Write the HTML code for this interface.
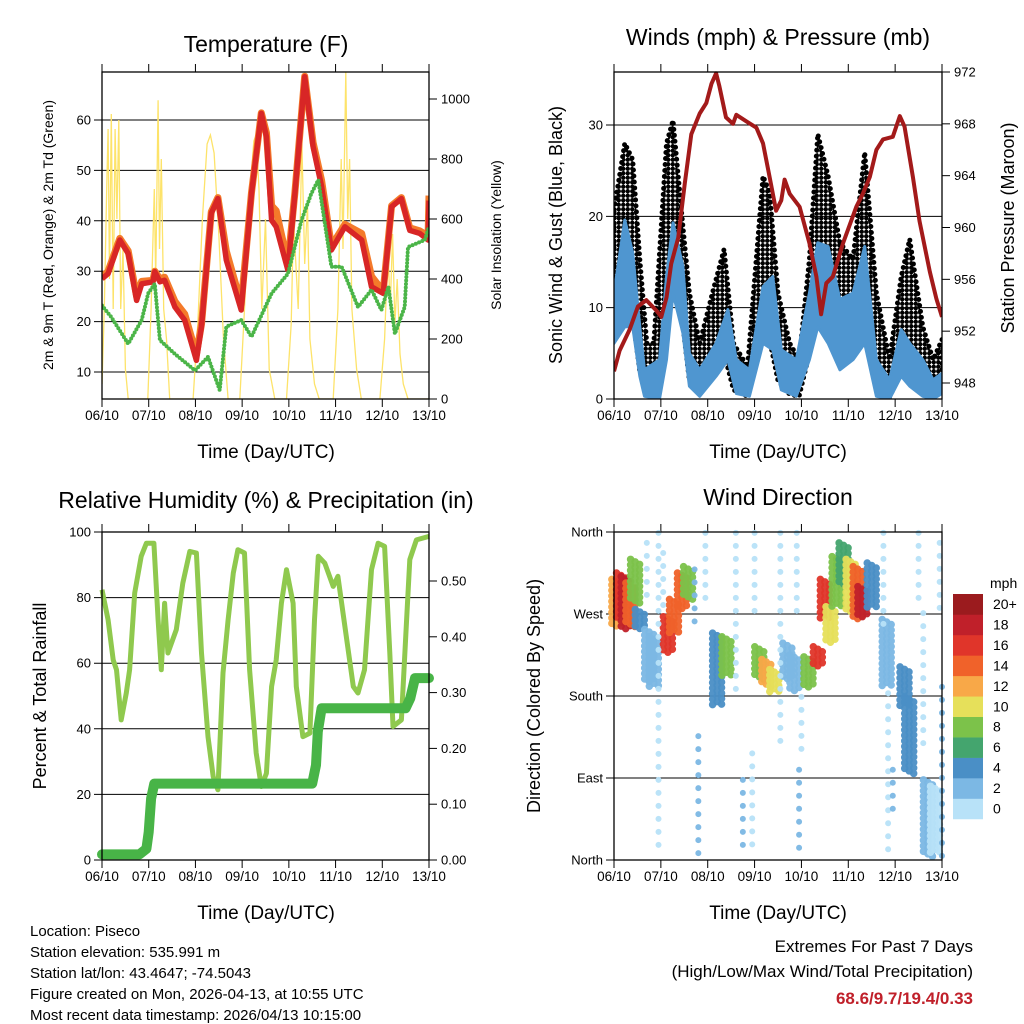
<!DOCTYPE html>
<html><head><meta charset="utf-8"><title>Station Meteogram</title>
<style>
body{margin:0;background:#fff;width:1024px;height:1024px;overflow:hidden}
svg{display:block;font-family:"Liberation Sans",sans-serif}
</style></head>
<body>
<svg id="root" width="1024" height="1024" viewBox="0 0 1024 1024">
<defs>
<pattern id="gustdots" width="4.5" height="4.5" patternUnits="userSpaceOnUse"><circle cx="2.25" cy="2.25" r="2.2" fill="#000"/></pattern>
</defs>
<g id="p1"></g>
<g id="p2"></g>
<g id="p3"></g>
<g id="p4"></g>

<text x="266" y="52" font-size="23" text-anchor="middle">Temperature (F)</text>
<text x="778" y="45" font-size="23" text-anchor="middle">Winds (mph) &amp; Pressure (mb)</text>
<text x="266" y="508" font-size="23" text-anchor="middle">Relative Humidity (%) &amp; Precipitation (in)</text>
<text x="778" y="505" font-size="23" text-anchor="middle">Wind Direction</text>

<text x="266" y="458" font-size="19" text-anchor="middle">Time (Day/UTC)</text>
<text x="778" y="458" font-size="19" text-anchor="middle">Time (Day/UTC)</text>
<text x="266" y="919" font-size="19" text-anchor="middle">Time (Day/UTC)</text>
<text x="778" y="919" font-size="19" text-anchor="middle">Time (Day/UTC)</text>

<text transform="translate(53,235) rotate(-90)" font-size="14" text-anchor="middle">2m &amp; 9m T (Red, Orange) &amp; 2m Td (Green)</text>
<text transform="translate(501,235) rotate(-90)" font-size="14" text-anchor="middle">Solar Insolation (Yellow)</text>
<text transform="translate(562,235) rotate(-90)" font-size="18" text-anchor="middle">Sonic Wind &amp; Gust (Blue, Black)</text>
<text transform="translate(1014,228) rotate(-90)" font-size="18" text-anchor="middle">Station Pressure (Maroon)</text>
<text transform="translate(46,696) rotate(-90)" font-size="18" text-anchor="middle">Percent &amp; Total Rainfall</text>
<text transform="translate(540,696) rotate(-90)" font-size="18" text-anchor="middle">Direction (Colored By Speed)</text>

<g font-size="15">
<text x="30" y="936">Location: Piseco</text>
<text x="30" y="957">Station elevation: 535.991 m</text>
<text x="30" y="978">Station lat/lon: 43.4647; -74.5043</text>
<text x="30" y="999">Figure created on Mon, 2026-04-13, at 10:55 UTC</text>
<text x="30" y="1020">Most recent data timestamp: 2026/04/13 10:15:00</text>
</g>
<text x="973" y="952" font-size="17" text-anchor="end">Extremes For Past 7 Days</text>
<text x="973" y="977" font-size="17" text-anchor="end">(High/Low/Max Wind/Total Precipitation)</text>
<text x="973" y="1004" font-size="17" font-weight="bold" fill="#c0202a" text-anchor="end">68.6/9.7/19.4/0.33</text>
<g id="legend"></g>
</svg>
<script>
// ---------- data ----------
const dayLabels = ["06/10","07/10","08/10","09/10","10/10","11/10","12/10","13/10"];
const tempTimes = [0,0.13,0.38,0.56,0.74,0.85,1.09,1.13,1.24,1.34,1.56,1.77,2.02,2.13,2.34,2.48,2.66,2.98,3.2,3.41,3.52,3.63,3.73,3.98,4.13,4.34,4.52,4.7,4.91,5.2,5.56,5.77,6.02,6.2,6.41,6.59,6.8,6.98,7.0];
const temp2m = [28.5,29.5,36.2,33.5,24.2,27.5,27.9,29.9,27.9,28.2,22.9,20.3,12.3,19,41.5,44.4,32.2,22.3,45.4,61.3,56.7,40.1,38.8,30.2,45.4,68.6,54.7,46.8,34.2,38.8,36.2,26.9,25.6,42.8,44.4,38.1,37.5,36.2,44];
const temp9m = [28.8,30,36.5,34,25,28,28.2,30,28.5,28.8,24,21.5,13.5,19.5,41.8,44.6,34,23.5,45.6,61.4,57.5,43,42,31.5,45.6,68.7,55.5,48,35,39.3,37.5,29,26,43,44.6,38.6,38,37,45];
const tdTimes = [0,0.2,0.56,0.85,0.99,1.13,1.24,1.56,1.99,2.27,2.52,2.66,2.98,3.2,3.63,3.98,4.27,4.48,4.63,4.91,5.13,5.48,5.77,5.98,6.13,6.27,6.48,6.55,6.91,7];
const tdVals = [23.2,20.9,15.6,20.3,25.6,27.5,16.3,13.6,10.3,13,6.4,19,20.3,17,25.6,29.5,40.1,45.4,48.1,30.9,30.9,22.9,26.3,22.3,26.9,17.6,22.9,34.8,36.2,38.8];
const solarTimes = [0,0.05,0.1,0.13,0.16,0.2,0.24,0.28,0.32,0.36,0.4,0.45,0.5,0.56,0.98,1.05,1.12,1.15,1.2,1.23,1.27,1.32,1.38,1.45,1.95,2.05,2.15,2.25,2.32,2.4,2.5,2.6,2.7,2.95,3.05,3.15,3.25,3.3,3.36,3.42,3.5,3.58,3.7,3.95,4.05,4.1,4.2,4.28,4.34,4.4,4.45,4.55,4.65,4.95,5.05,5.12,5.16,5.22,5.26,5.3,5.35,5.45,5.55,5.95,6.05,6.12,6.17,6.22,6.27,6.32,6.38,6.45,6.55,7];
const solarVals = [50,300,700,900,400,950,300,900,600,930,300,500,100,0,0,300,700,400,996,500,800,300,200,0,0,250,600,850,880,820,550,200,0,0,300,650,860,880,700,300,600,100,0,0,250,600,300,850,450,650,200,50,0,0,300,800,500,1090,600,800,300,100,0,0,200,500,300,550,250,400,150,50,0,0];
const presTimes = [0,0.12,0.33,0.51,0.69,0.9,1.01,1.12,1.22,1.37,1.51,1.65,1.83,1.97,2.08,2.18,2.25,2.39,2.54,2.61,2.82,3.04,3.18,3.32,3.46,3.57,3.64,3.75,3.96,4.17,4.32,4.42,4.53,4.67,4.89,5.17,5.31,5.46,5.6,5.74,5.95,6.1,6.2,6.38,6.52,6.74,6.88,7];
const presVals = [948.9,950.5,952.1,953.9,954.4,953.6,953.1,954.6,957.2,959.2,963.4,967.2,968.8,969.6,971.1,971.9,970.9,968.5,968,968.7,968.2,967.7,966.5,963.9,961.3,962.1,963.7,962.6,961.6,958.8,956.2,953.3,955.7,956.2,958.8,961.6,962.6,963.9,966,966.8,967,968.6,967.8,963.9,960.5,956.6,954.5,953.1];
const windTimes = [0,0.23,0.4,0.55,0.65,0.97,1.12,1.26,1.47,1.61,1.83,2.18,2.43,2.61,2.89,3.18,3.39,3.57,3.89,4.17,4.35,4.57,4.82,5.1,5.35,5.6,5.88,6.13,6.31,6.59,6.81,7];
const windHigh = [11.6,19.6,16,7.9,3.2,4.3,13.4,19.3,14.5,5,3.2,6.1,9.8,4.3,3.2,12.3,13.4,5.4,4.3,11.6,17.1,16.7,10.9,11.6,16.7,4.3,2.1,7.6,6.1,4.3,2.1,2.8];
const windLow = [6.1,7.9,7.9,2.5,0.3,0,4.3,11.6,7.2,1.4,0.3,2.5,4.3,0.6,0.3,6.1,5.4,1,0.3,4.3,7.9,6.1,3.2,4.3,6.1,0.3,0,2.5,1.4,0.3,0,0.6];
const gustTimes = [0,0.23,0.4,0.55,0.7,0.85,1.12,1.26,1.47,1.61,1.83,2.1,2.35,2.55,2.85,3.18,3.32,3.5,3.75,3.95,4.17,4.35,4.57,4.82,5.1,5.35,5.6,5.88,6.13,6.31,6.59,6.81,7];
const gustHigh = [20.7,28,26.2,15.3,6.1,6.1,28,30.5,18.9,11.6,6.1,11.6,16.4,6.1,3.5,24.4,22.6,11.6,6.1,4.3,15.3,29,24.4,17.1,15.3,27,11.6,4.3,13.4,17.5,7.9,4.3,6.5];
const gustLow = [8.7,13.4,9,3,0.6,0.5,7,12,8,2,0.5,2.5,5,1,0.3,7,6.5,2,0.5,0.3,5,9,7,4,5,7,1,0.2,3,2,0.5,0.2,1];
const rhTimes = [0,0.13,0.24,0.31,0.41,0.52,0.59,0.7,0.84,0.95,1.11,1.2,1.27,1.34,1.41,1.59,1.73,1.88,2.02,2.13,2.27,2.38,2.48,2.59,2.7,2.81,2.91,3.05,3.16,3.3,3.41,3.52,3.63,3.73,3.84,3.95,4.09,4.16,4.3,4.45,4.55,4.63,4.77,4.95,5.05,5.2,5.38,5.48,5.62,5.77,5.91,6.05,6.16,6.23,6.41,6.52,6.59,6.73,6.98,7];
const rhVals = [82.4,73.2,61,58,42.7,50.9,58,81.4,92.6,96.6,96.6,73.2,58,78.3,63.1,70.2,84.4,94.1,93.6,63.1,37.6,25.4,21.4,57,73.2,87.5,94.6,93.6,58,32.6,22.4,26.4,52.9,61,78.3,88.5,78.3,52.9,37.6,38.7,73.2,92.6,90.5,83.4,86.5,71.2,52.9,50.9,58,88.5,96.6,95.6,63.1,40.7,42.7,73.2,91.6,97.6,98.6,98.7];
const precipTimes = [0,0.8,0.95,1.0,1.05,1.12,4.5,4.58,4.62,4.7,6.5,6.6,6.7,7];
const precipVals = [0.01,0.01,0.02,0.05,0.11,0.137,0.137,0.17,0.23,0.272,0.272,0.29,0.326,0.326];
const dirTimes = [0.05,0.15,0.25,0.35,0.45,0.55,0.75,0.85,1.15,1.28,1.45,1.58,1.72,2.2,2.4,3.1,3.25,3.42,3.7,3.85,4.15,4.35,4.5,4.62,4.75,4.9,5.05,5.2,5.3,5.5,5.82,6.2,6.3,6.7,6.85,0.7,0.95,1.05,1.8,1.95,2.6,2.75,2.95,3.0,3.55,3.9,3.95,4.0,5.75,5.85,5.95,6.5,6.6,6.95,7.0];
const dirHigh = [308,315,311,304,330,275,253,245,267,286,315,322,319,249,245,234,220,209,238,225,223,234,308,278,333,348,330,322,300,326,264,212,179,88,81,348,359,337,136,359,359,88,117,359,359,359,99,179,359,183,99,359,271,348,190];
const dirLow = [256,264,253,256,282,253,194,190,227,249,275,286,253,168,201,198,190,183,198,185,190,212,264,238,278,300,271,264,267,275,190,168,95,4,7,282,7,275,4,282,179,4,4,264,117,264,4,117,256,4,44,282,117,264,4];
const dirSpeed = [12,16,18,14,8,4,2,2,16,14,14,8,2,4,8,8,12,10,2,2,8,16,16,10,8,6,10,14,18,4,2,4,4,2,0,0,0,0,2,0,0,2,0,0,0,0,2,0,0,0,2,0,0,0,2];
const dirSparse = [0,0,0,0,0,0,0,0,0,0,0,0,1,0,0,0,0,0,0,0,0,0,0,0,0,0,0,0,0,0,0,0,0,0,0,1,1,1,1,1,1,1,1,1,1,1,1,1,1,1,1,1,1,1,1];
const speedLabels = ["0","2","4","6","8","10","12","14","16","18","20+"];
const speedColors = ["#b8e2f8","#7cb8e4","#4a8fc6","#44a56e","#7cc24a","#e6e05a","#f8a848","#f0622a","#e0352a","#c0202a","#9b1b1e"];
const temp1Ticks = [10,20,30,40,50,60];
const solarTicks = [0,200,400,600,800,1000];
const windTicks = [0,10,20,30];
const presTicks = [948,952,956,960,964,968,972];
const rhTicks = [0,20,40,60,80,100];
const rainTicks = [0,0.1,0.2,0.3,0.4,0.5];
const dirTicks = [0,90,180,270,360];
const dirNames = ["North","East","South","West","North"];

// ---------- helpers ----------
const NS = "http://www.w3.org/2000/svg";
function mk(parent, tag, attrs) {
  const e = document.createElementNS(NS, tag);
  for (const k in attrs) e.setAttribute(k, attrs[k]);
  parent.appendChild(e);
  return e;
}
function linScale(d0, d1, r0, r1) { return v => r0 + (v - d0) * (r1 - r0) / (d1 - d0); }
function pathFrom(ts, vs, xs, ys) { return ts.map((t, i) => (i ? "L" : "M") + xs(t).toFixed(1) + "," + ys(vs[i]).toFixed(1)).join(""); }

function frame(g, x0, x1, y0, y1, name) {
  const xs = linScale(0, 7, x0, x1);
  for (let i = 0; i <= 7; i++) {
    const x = xs(i);
    const t = mk(g, "line", { x1: x, x2: x, y1: y1, y2: y1 + 8, stroke: "#000", "stroke-width": 1 });
    
    
    const t2 = mk(g, "line", { x1: x, x2: x, y1: y0 - 8, y2: y0, stroke: "#000", "stroke-width": 1 });
    
    
    const lb = mk(g, "text", { x: x, y: y1 + 21, "font-size": 13.5, "text-anchor": "middle" });
    lb.textContent = dayLabels[i];
    
    
  }
  return xs;
}
function box(g, x0, x1, y0, y1, name) {
  const r = mk(g, "rect", { x: x0, y: y0, width: x1 - x0, height: y1 - y0, fill: "none", stroke: "#000", "stroke-width": 1.3 });
  
  
}
function leftAxis(g, ticks, ys, x0, x1, name, grid, fmt) {
  ticks.forEach(v => {
    const y = ys(v);
    const l = mk(g, "line", { x1: x0 - 8, x2: grid ? x1 : x0, y1: y, y2: y, stroke: "#000", "stroke-width": 1 });
    
    
    const t = mk(g, "text", { x: x0 - 11, y: y + 4.5, "font-size": 13, "text-anchor": "end" });
    t.textContent = fmt ? fmt(v) : v;
    
    
  });
}
function rightAxis(g, ticks, ys, x1, name, fmt) {
  ticks.forEach(v => {
    const y = ys(v);
    const l = mk(g, "line", { x1: x1, x2: x1 + 8, y1: y, y2: y, stroke: "#000", "stroke-width": 1 });
    
    
    const t = mk(g, "text", { x: x1 + 12, y: y + 4.5, "font-size": 13 });
    t.textContent = fmt ? fmt(v) : v;
    
    
  });
}

// ---------- Panel 1: temperature ----------
(function () {
  const g = document.getElementById("p1");
  const x0 = 102, x1 = 429, y0 = 72, y1 = 399;
  const xs = frame(g, x0, x1, y0, y1, "temperature");
  const ys = linScale(60, 10, 120, 372);
  const yr = linScale(0, 1000, 399, 99);
  leftAxis(g, temp1Ticks, ys, x0, x1, "temperature", true);
  rightAxis(g, solarTicks, yr, x1, "solar");
  const clip = mk(g, "clipPath", { id: "c1" });
  mk(clip, "rect", { x: x0, y: y0, width: x1 - x0, height: y1 - y0 });
  const pg = mk(g, "g", { "clip-path": "url(#c1)" });
  const s = mk(pg, "path", { d: pathFrom(solarTimes, solarVals, xs, yr), fill: "none", stroke: "#fde36a", "stroke-width": 1.3 });
  
  
  const o = mk(pg, "path", { d: pathFrom(tempTimes, temp9m, xs, ys), fill: "none", stroke: "#f47a2a", "stroke-width": 7, "stroke-linejoin": "round" });
  
  
  const r = mk(pg, "path", { d: pathFrom(tempTimes, temp2m, xs, ys), fill: "none", stroke: "#d82626", "stroke-width": 5.5, "stroke-linejoin": "round" });
  
  
  const d = mk(pg, "path", { d: pathFrom(tdTimes, tdVals, xs, ys), fill: "none", stroke: "#4bb548", "stroke-width": 4, "stroke-dasharray": "0 3.5", "stroke-linecap": "round" });
  
  
  box(g, x0, x1, y0, y1, "temperature");
})();

// ---------- Panel 2: winds ----------
(function () {
  const g = document.getElementById("p2");
  const x0 = 614, x1 = 942, y0 = 72, y1 = 399;
  const xs = frame(g, x0, x1, y0, y1, "winds");
  const ys = linScale(0, 30, 399, 125);
  const yr = linScale(972, 948, 72, 383);
  leftAxis(g, windTicks, ys, x0, x1, "winds", true);
  rightAxis(g, presTicks, yr, x1, "pressure");
  const clip = mk(g, "clipPath", { id: "c2" });
  mk(clip, "rect", { x: x0, y: y0 - 4, width: x1 - x0, height: y1 - y0 + 4 });
  const pg = mk(g, "g", { "clip-path": "url(#c2)" });
  const gd = pathFrom(gustTimes, gustHigh, xs, ys) + gustTimes.slice().reverse().map((t, i) => "L" + xs(t).toFixed(1) + "," + ys(gustLow[gustTimes.length - 1 - i]).toFixed(1)).join("") + "Z";
  const gp = mk(pg, "path", { d: gd, fill: "url(#gustdots)", stroke: "#000", "stroke-width": 5, "stroke-dasharray": "0 6", "stroke-linecap": "round", "stroke-linejoin": "round" });
  
  
  const wd = pathFrom(windTimes, windHigh, xs, ys) + windTimes.slice().reverse().map((t, i) => "L" + xs(t).toFixed(1) + "," + ys(windLow[windTimes.length - 1 - i]).toFixed(1)).join("") + "Z";
  const wp = mk(pg, "path", { d: wd, fill: "#4f96d0", stroke: "#4f96d0", "stroke-width": 3, "stroke-linejoin": "round" });
  
  
  const pp = mk(pg, "path", { d: pathFrom(presTimes, presVals, xs, yr), fill: "none", stroke: "#a31a1a", "stroke-width": 4, "stroke-linejoin": "round" });
  
  
  box(g, x0, x1, y0, y1, "winds");
})();

// ---------- Panel 3: RH & precip ----------
(function () {
  const g = document.getElementById("p3");
  const x0 = 102, x1 = 429, y0 = 532, y1 = 860;
  const xs = frame(g, x0, x1, y0, y1, "humidity");
  const ys = linScale(0, 100, 860, 532);
  const yr = linScale(0, 0.5, 860, 581);
  leftAxis(g, rhTicks, ys, x0, x1, "humidity", true);
  rightAxis(g, rainTicks, yr, x1, "rainfall", v => v.toFixed(2));
  const h = mk(g, "path", { d: pathFrom(rhTimes, rhVals, xs, ys), fill: "none", stroke: "#8fc94e", "stroke-width": 5, "stroke-linejoin": "round" });
  
  
  const p = mk(g, "path", { d: pathFrom(precipTimes, precipVals, xs, yr), fill: "none", stroke: "#48b447", "stroke-width": 10, "stroke-linejoin": "round", "stroke-linecap": "round" });
  
  
  box(g, x0, x1, y0, y1, "humidity");
})();

// ---------- Panel 4: wind direction ----------
(function () {
  const g = document.getElementById("p4");
  const x0 = 614, x1 = 942, y0 = 532, y1 = 860;
  const xs = frame(g, x0, x1, y0, y1, "direction");
  const ys = linScale(0, 360, 860, 532);
  leftAxis(g, dirTicks, ys, x0, x1, "direction", true, v => dirNames[dirTicks.indexOf(v)]);
  const offsets = [-4.5, 0, 4.5];
  dirTimes.forEach((t, i) => {
    const sp = dirSparse[i] === 1;
    const col = speedColors[Math.min(10, Math.round(dirSpeed[i] / 2))];
    const offs = sp ? [0] : offsets;
    offs.forEach((dx, k) => {
      const seg = mk(g, "line", {
        x1: xs(t) + dx, x2: xs(t) + dx, y1: ys(dirHigh[i]) + k * 2.5, y2: ys(dirLow[i]),
        stroke: col, "stroke-width": sp ? 6 : 7.5, "stroke-linecap": "round",
        "stroke-dasharray": sp ? "0 13" : "0 5.5", opacity: 0.95
      });
      
      
    });
  });
  box(g, x0, x1, y0, y1, "direction");
})();

// ---------- Legend ----------
(function () {
  const g = document.getElementById("legend");
  const t = mk(g, "text", { x: 990, y: 588, "font-size": 14 });
  t.textContent = "mph";
  
  
  const h = 20.45;
  speedLabels.forEach((lab, i) => {
    const y = 594 + (10 - i) * h;
    const r = mk(g, "rect", { x: 953, y: y, width: 30, height: h + 0.3, fill: speedColors[i] });
    
    
    const tx = mk(g, "text", { x: 993, y: y + 15, "font-size": 14 });
    tx.textContent = lab;
    
    
  });
})();
</script>
</body></html>
